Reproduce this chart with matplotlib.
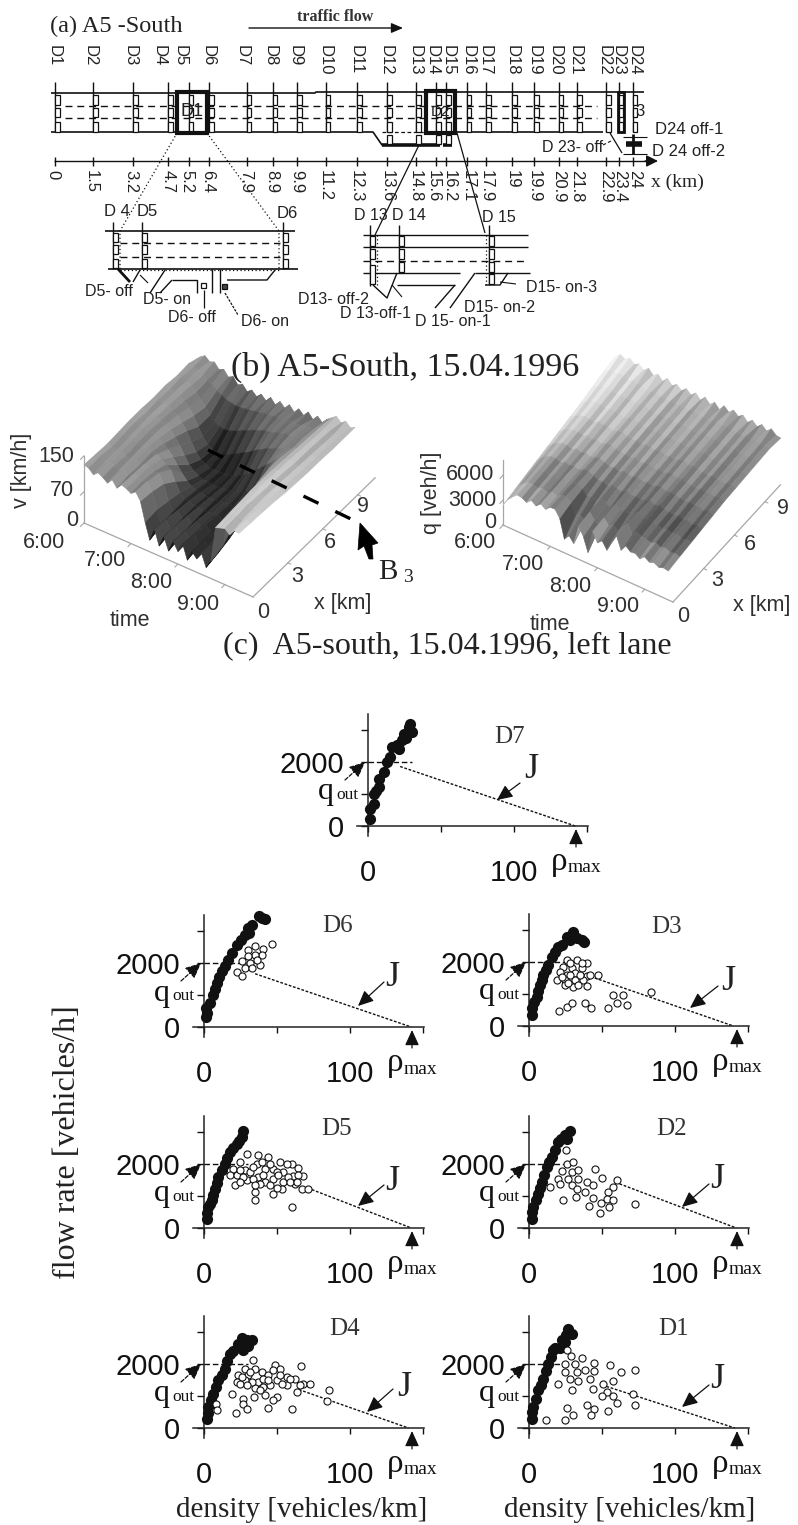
import numpy as np
import matplotlib
matplotlib.use('Agg')
import matplotlib.pyplot as plt
from matplotlib.patches import Rectangle, Polygon
from mpl_toolkits.mplot3d import proj3d

W, H = 798, 1525
SANS = 'Liberation Sans'
SERIF = 'Liberation Serif'

# (a) detector layout
det_names = ['D1', 'D2', 'D3', 'D4', 'D5', 'D6', 'D7', 'D8', 'D9', 'D10', 'D11', 'D12', 'D13', 'D14',
             'D15', 'D16', 'D17', 'D18', 'D19', 'D20', 'D21', 'D22', 'D23', 'D24']
det_km = [0, 1.58, 3.24, 4.7, 5.56, 6.4, 7.97, 9.05, 10.05, 11.25, 12.55, 13.8, 15.0, 15.83,
          16.24, 17.1, 17.9, 18.98, 19.9, 20.93, 21.68, 22.9, 23.42, 24]
name_px = [54, 90, 130, 159, 180, 208, 242, 270, 295, 325, 356, 386, 415, 432, 448, 468, 485, 512, 534, 555, 575, 604, 618, 634]
km_labels = ['0', '1.5', '3.2', '4.7', '5.2', '6.4', '7.9', '8.9', '9.9', '11.2', '12.3', '13.6', '14.8', '15.6',
             '16.2', '17.1', '17.9', '19', '19.9', '20.9', '21.8', '22.9', '23.4', '24']
km_label_px = [53, 91, 131, 168, 187, 208, 246, 272, 297, 325, 356, 387, 415, 433, 449, 468, 486, 512, 534, 559, 577, 606, 620, 635]

# (b) speed surface, rows are x [km], columns are time [min after 6:00]
surf_x = [0, 1, 2, 3, 4, 5, 6, 7, 8, 9, 10]
v_time = [0, 6, 12, 18, 24, 30, 36, 42, 48, 54, 60, 66, 72, 78, 84, 90, 96, 102, 108, 114, 120, 126, 132, 138,
          144, 150, 156, 162, 168, 174, 180, 186, 192, 198]
v_x0 = [130, 127, 117, 126, 120, 112, 124, 110, 122, 118, 112, 120, 104, 62, 26, 55, 22, 48, 20, 46, 28, 50, 18, 42, 30, 48, 20, 38, 118, 122, 125, 116, 130, 128]
v_x1 = [128, 128, 119, 124, 121, 115, 122, 113, 120, 117, 114, 118, 100, 64, 34, 52, 28, 46, 26, 44, 30, 46, 24, 40, 32, 44, 26, 46, 120, 124, 126, 120, 128, 126]
v_x2 = [126, 124, 120, 122, 118, 116, 120, 112, 118, 116, 110, 112, 92, 58, 38, 46, 32, 42, 30, 40, 34, 42, 28, 38, 36, 42, 34, 70, 122, 126, 128, 122, 126, 124]
v_x3 = [128, 126, 122, 124, 120, 118, 118, 114, 114, 108, 100, 94, 72, 52, 40, 42, 34, 38, 32, 36, 36, 38, 32, 36, 38, 40, 46, 96, 124, 128, 126, 124, 124, 122]
v_x4 = [130, 128, 124, 126, 122, 118, 116, 108, 100, 88, 74, 60, 48, 40, 36, 36, 32, 34, 32, 34, 36, 36, 36, 38, 42, 50, 78, 112, 124, 126, 124, 122, 120, 118]
v_x5 = [130, 126, 126, 124, 120, 116, 110, 98, 84, 66, 50, 40, 34, 30, 30, 28, 28, 30, 30, 32, 36, 38, 44, 50, 58, 72, 98, 118, 122, 124, 122, 120, 118, 116]
v_x6 = [128, 128, 124, 122, 118, 112, 100, 86, 66, 48, 36, 30, 26, 26, 26, 26, 28, 32, 36, 42, 50, 58, 68, 78, 88, 98, 110, 118, 120, 122, 118, 118, 116, 114]
v_x7 = [130, 126, 124, 120, 114, 104, 90, 70, 52, 40, 32, 30, 32, 36, 40, 46, 52, 58, 64, 72, 78, 84, 90, 94, 100, 104, 108, 112, 118, 120, 118, 116, 114, 114]
v_x8 = [126, 128, 122, 118, 108, 98, 84, 70, 60, 54, 52, 54, 58, 62, 68, 72, 78, 82, 86, 90, 92, 96, 98, 102, 104, 106, 110, 112, 116, 118, 116, 114, 114, 112]
v_x9 = [128, 124, 122, 116, 110, 104, 96, 90, 84, 82, 80, 80, 82, 84, 86, 88, 90, 92, 92, 94, 94, 96, 98, 98, 100, 102, 104, 108, 114, 116, 114, 112, 112, 112]
v_x10 = [118, 125, 116, 120, 108, 113, 100, 106, 92, 98, 86, 94, 84, 94, 84, 96, 84, 96, 86, 98, 86, 98, 88, 100, 88, 100, 90, 102, 110, 118, 108, 116, 106, 112]
v_rows = [v_x0, v_x1, v_x2, v_x3, v_x4, v_x5, v_x6, v_x7, v_x8, v_x9, v_x10]
v_streak = [.03, -.02, .04, 0, -.03, .04, .01, -.04, .03, .02, -.04, .03, -.02, .04, -.03, .02, -.02, .04, -.03, .02,
            .03, -.03, .01, -.04, .03, 0, -.03, .04, -.02, .04, -.05, .05, .03, -.04]

# (b) flow surface
q_surf_x = [0, 1.1, 2.2, 3.3, 4.4, 5.5, 6.6, 7.7, 8.8, 9.9, 11]
q_time = [0, 6, 12, 18, 24, 30, 36, 42, 48, 54, 60, 66, 72, 78, 84, 90, 96, 102, 108, 114, 120, 126, 132, 138,
          144, 150, 156, 162, 168, 174, 180, 186, 192, 198, 204, 210]
q_x0 = [2400, 3300, 3900, 4400, 4300, 4000, 4500, 4100, 4600, 4200, 4700, 4750, 3900, 1650, 2300, 1630, 3960, 3000, 1320, 4140, 3000, 3500, 2640, 3800, 4960, 3400, 4200, 3720, 3800, 3400, 3900, 3500, 3700, 3400, 3600, 3480]
q_x1 = [2700, 3500, 4000, 4400, 4400, 4200, 4500, 4200, 4600, 4300, 4700, 4800, 4300, 3000, 3300, 2800, 4200, 3500, 2900, 4300, 3600, 3900, 3400, 4200, 4900, 3900, 4400, 4100, 4000, 3800, 4100, 3800, 4000, 3700, 3900, 3700]
q_x2 = [3000, 3700, 4100, 4500, 4500, 4300, 4600, 4300, 4700, 4400, 4700, 4800, 4500, 3900, 4000, 3700, 4400, 4000, 3800, 4400, 4000, 4200, 4000, 4400, 4800, 4200, 4500, 4300, 4200, 4000, 4300, 4000, 4200, 3900, 4100, 3900]
q_x3 = [3300, 3900, 4300, 4600, 4600, 4400, 4700, 4500, 4700, 4500, 4800, 4800, 4600, 4300, 4400, 4100, 4500, 4300, 4200, 4500, 4300, 4400, 4300, 4500, 4700, 4400, 4600, 4400, 4300, 4200, 4400, 4200, 4300, 4100, 4300, 4100]
q_x4 = [3600, 4100, 4400, 4700, 4700, 4500, 4800, 4600, 4800, 4600, 4800, 4900, 4700, 4500, 4600, 4400, 4700, 4500, 4500, 4700, 4500, 4600, 4500, 4700, 4800, 4600, 4700, 4600, 4500, 4400, 4600, 4400, 4500, 4300, 4500, 4300]
q_x5 = [3900, 4300, 4600, 4800, 4800, 4700, 4900, 4700, 4900, 4700, 5000, 5000, 4800, 4700, 4700, 4600, 4800, 4600, 4700, 4800, 4600, 4700, 4600, 4800, 4900, 4700, 4800, 4700, 4600, 4500, 4700, 4500, 4600, 4500, 4600, 4500]
q_x6 = [4200, 4500, 4800, 5000, 4900, 4800, 5100, 4900, 5000, 4800, 5000, 5100, 4900, 4800, 4900, 4700, 4900, 4800, 4800, 4900, 4700, 4800, 4700, 4900, 5000, 4800, 4900, 4800, 4700, 4600, 4800, 4600, 4700, 4600, 4700, 4600]
q_x7 = [4500, 4800, 5000, 5200, 5100, 5000, 5200, 5000, 5100, 4900, 5100, 5200, 5000, 4900, 5000, 4800, 5000, 4900, 4900, 5000, 4800, 4900, 4800, 5000, 5100, 4900, 5000, 4900, 4800, 4700, 4900, 4700, 4800, 4700, 4800, 4700]
q_x8 = [4900, 5100, 5300, 5400, 5300, 5200, 5400, 5200, 5300, 5100, 5200, 5300, 5100, 5000, 5100, 4900, 5100, 5000, 5000, 5100, 4900, 5000, 4900, 5100, 5200, 5000, 5100, 5000, 4900, 4800, 5000, 4800, 4900, 4800, 4900, 4800]
q_x9 = [5300, 5500, 5600, 5700, 5600, 5400, 5600, 5400, 5500, 5200, 5300, 5400, 5200, 5100, 5200, 5000, 5200, 5100, 5100, 5200, 5000, 5100, 5000, 5200, 5300, 5100, 5200, 5100, 5000, 4900, 5100, 4900, 5000, 4900, 5000, 4900]
q_x10 = [5500, 6000, 5700, 6100, 5600, 5900, 5400, 5900, 5300, 5700, 5100, 5700, 5100, 5500, 5000, 5500, 5000, 5500, 4900, 5500, 4900, 5400, 4800, 5500, 5000, 5500, 5000, 5400, 4800, 5300, 4800, 5300, 4800, 5300, 4800, 4700]
q_rows = [q_x0, q_x1, q_x2, q_x3, q_x4, q_x5, q_x6, q_x7, q_x8, q_x9, q_x10]
q_grey_x = [0.5, 0.45, 0.46, 0.52, 0.58, 0.62, 0.66, 0.68, 0.7, 0.72, 0.72]
q_grey_t = [1.22, 1.22, 1.2, 1.2, 1.18, 1.16, 1.14, 1.12, 1.1, 1.08, 1.06, 1.04, 1.02, 1.0, .98, .97, .96, .95, .94, .93,
            .92, .91, .9, .89, .88, .87, .86, .85, .84, .83, .82, .81, .8, .79, .78, .77]
q_streak = [.05, -.03, .06, .02, -.05, .07, 0, -.06, .08, .03, -.07, .06, -.02, .08, -.06, .04, -.03, .09, -.07, .03,
            .07, -.05, .02, -.08, .06, 0, -.06, .08, -.03, .05, -.07, .04, .06, -.05, .02, -.03]

# (c) density, flow: free flow (black) and synchronized flow (white)
d7_free_d = [1.6, 1.6, 3.9, 4.3, 5.5, 7.3, 7.3, 10.7, 13, 15.3, 16.4, 19.9, 23.3, 24.4, 27.9, 30.1, 28.5, 21, 26]
d7_free_q = [229, 540, 697, 1009, 1100, 1217, 1477, 1685, 1997, 2153, 2465, 2517, 2673, 2881, 3089, 2933, 3193, 2400, 2750]

d6_free_d = [1.5, 2.3, 1.5, 4.1, 6.4, 7.5, 9.1, 10.5, 12.1, 14.5, 16.7, 19.5, 22.4, 25, 28.1, 31, 32.6, 30, 39.5, 41.8, 37.5]
d6_free_q = [300, 437, 600, 749, 1009, 1200, 1373, 1560, 1737, 1920, 2101, 2300, 2569, 2730, 2881, 2950, 3193, 3100, 3400, 3380, 3470]
d6_sync_d = [46.3, 40.6, 34.9, 30.4, 39.5, 34.9, 30.4, 25.8, 31.5, 38.4, 28.1, 32.6, 22.4, 25.8, 36.1]
d6_sync_q = [2590, 2434, 2517, 2413, 2257, 2257, 2205, 2049, 1997, 1924, 1841, 1841, 1706, 1602, 2101]

d3_free_d = [1.8, 2, 3.5, 5.3, 6.5, 7.5, 8.6, 9.8, 11.5, 13.2, 15.5, 18, 20, 22.5, 25.8, 28, 30.4, 33, 36, 37.5]
d3_free_q = [343, 560, 760, 915, 1100, 1279, 1440, 1591, 1750, 1903, 2163, 2320, 2475, 2540, 2787, 2700, 2943, 2760, 2683, 2640]
d3_sync_d = [25.8, 33.1, 40, 23.5, 29.2, 36.1, 21.2, 25.8, 31.5, 39.5, 19, 24.7, 31.5, 37.2, 24.7, 30.4, 39.5, 47, 83.6,
             20.8, 25.8, 29.2, 38.4, 42.2, 54.3, 57.8, 64.6, 60, 66.9, 28.1, 36.1, 22.4, 28.1, 34.9, 41.8, 26.9, 33.8]
d3_sync_q = [2059, 2059, 1955, 1851, 1799, 1799, 1695, 1591, 1643, 1560, 1435, 1435, 1435, 1435, 1279, 1206, 1248, 1591, 1050,
             468, 582, 728, 728, 551, 551, 967, 967, 707, 655, 1955, 1955, 1539, 1591, 1591, 1591, 1331, 1279]

d5_free_d = [2.3, 2.3, 2.5, 4, 5.3, 6.4, 7.5, 8.6, 9.8, 12, 14.4, 16, 17.8, 20, 22.4, 24, 25.8, 26.9]
d5_free_q = [291, 480, 655, 760, 863, 1040, 1227, 1410, 1591, 1800, 2007, 2190, 2371, 2500, 2631, 2730, 2839, 3026]
d5_sync_d = [29.2, 37.2, 44.1, 24.7, 36.1, 52, 60, 64.6, 20.1, 28.1, 41.8, 31.5, 47.5, 54.3, 17.8, 22.4, 37.2, 47.5, 61.2, 68,
             29.2, 41.8, 54.3, 21.2, 38.4, 45.2, 53.2, 66.9, 71.5, 34.9, 47.5, 34.9, 60, 49.8, 62.3, 33.8,
             24.7, 33.8, 39.5, 45.2, 56.6, 26.9, 40.6, 50.9, 57.8, 64.6, 24.7, 34.9, 49.8, 58.9, 63.5]
d5_sync_q = [2319, 2267, 2215, 2059, 2007, 2059, 2007, 1872, 1851, 1799, 1851, 1747, 1851, 1747, 1643, 1643, 1591, 1539, 1612, 1612,
             1487, 1435, 1435, 1331, 1383, 1331, 1227, 1227, 1227, 1123, 1071, 863, 655, 1747, 1383, 1539,
             1799, 1903, 2059, 2007, 2007, 1591, 1643, 1643, 1591, 1643, 1435, 1331, 1258, 1435, 1435]

d2_free_d = [1.8, 2, 3, 4.7, 6.4, 7.5, 8.7, 10.4, 12.1, 13.8, 15.5, 17.8, 20, 22, 24.7, 26, 28]
d2_free_q = [291, 500, 655, 860, 1071, 1250, 1435, 1670, 1903, 2060, 2215, 2450, 2683, 2790, 2891, 2780, 3026]
d2_sync_d = [25.3, 25.8, 30.4, 22.4, 29.2, 33.8, 45.2, 20.1, 26.9, 33.8, 39.5, 49.8, 60, 21.2, 29.2, 44.1, 57.8, 32.6, 38.4, 54.3,
             32.2, 44.1, 53.2, 57.8, 14.4, 23.1, 49.1, 55, 41.3, 48.6, 72.6]
d2_sync_q = [2423, 2007, 2059, 1778, 1747, 1799, 1830, 1539, 1539, 1539, 1435, 1570, 1508, 1383, 1331, 1331, 1279, 1227, 1123, 1123,
             967, 936, 894, 863, 1279, 863, 780, 655, 676, 468, 738]

d4_free_d = [1.8, 2.5, 3, 4.7, 6.4, 8, 9.8, 12, 14.4, 16, 17.8, 20, 23.5, 26.9, 29.2, 26, 32.6, 30]
d4_free_q = [291, 480, 655, 860, 1071, 1280, 1487, 1670, 1851, 2080, 2319, 2420, 2631, 2423, 2735, 2800, 2735, 2550]
d4_sync_d = [33.8, 48.6, 66.2, 28.1, 34.9, 39.5, 52.1, 23.5, 30.4, 44.1, 56.6, 22.4, 28.1, 37.2, 49.8, 62.3, 68, 72.6, 24.7, 34.9,
             45.2, 63.5, 19, 26.9, 34.2, 41.8, 49.8, 47.5, 26.9, 29.7, 44.1, 21.9, 60.5, 85.8, 84, 8.2, 9.1, 32.6, 56.6,
             25.8, 31.5, 40.6, 47.5, 52.1, 58.9, 29.2, 40.6, 44.1, 53.2, 38.4, 65.8]
d4_sync_q = [2111, 1955, 1924, 1851, 1851, 1747, 1851, 1643, 1643, 1643, 1591, 1435, 1487, 1435, 1487, 1539, 1383, 1383, 1383, 1258,
             1331, 1123, 1071, 915, 967, 1019, 967, 863, 759, 603, 634, 468, 582, 1196, 842, 759, 572, 1435, 1331,
             1591, 1747, 1539, 1799, 1643, 1539, 1331, 1279, 1487, 1383, 1175, 1331]

d1_free_d = [1.8, 2, 3, 4.7, 6.4, 8, 9.8, 11.5, 13.2, 15, 16.7, 18, 22.4, 21.5, 25, 26.9, 29.2, 24.5]
d1_free_q = [291, 500, 655, 900, 1175, 1350, 1539, 1770, 2007, 2220, 2423, 2500, 2735, 2500, 2900, 3099, 2943, 2700]
d1_sync_d = [26.3, 28.5, 36.1, 24.7, 31.5, 44.5, 55.5, 62.8, 72.6, 24.7, 32.6, 38.4, 44.5, 20.1, 28.1, 33.8, 41.8, 50.9, 57.8, 29.2,
             43.6, 53.2, 71.5, 49.8, 57.3, 60.5, 26.3, 40, 44.5, 54.3, 72.6, 30.4, 42.2, 24.7, 11.6]
d1_sync_q = [2444, 2236, 2194, 2007, 2007, 2038, 1976, 1747, 1799, 1747, 1747, 1799, 1778, 1383, 1539, 1456, 1539, 1383, 1456, 1175,
             1206, 1123, 1071, 998, 988, 790, 634, 728, 603, 530, 728, 416, 416, 239, 260]

# line J: start density, start flow, density at rest (rho_max)
j_d7 = [22, 1860, 142]
j_d6 = [35, 1664, 142]
j_d3 = [45, 1500, 140]
j_d5 = [71, 1250, 142]
j_d2 = [62, 1380, 142]
j_d4 = [65, 1200, 140]
j_d1 = [53, 1300, 141]

plt.rcParams['font.family'] = SANS
fig = plt.figure(figsize=(W / 100, H / 100), dpi=100)
INK = '#111111'


def add_px_axes(left, top, right, bottom, **kw):
    return fig.add_axes([left / W, 1 - bottom / H, (right - left) / W, (bottom - top) / H], **kw)


# pixel overlay for the schematic and the annotation texts
ov = fig.add_axes([0, 0, 1, 1], zorder=10)
ov.set_xlim(0, W)
ov.set_ylim(H, 0)
ov.axis('off')


def line(xs, ys, lw=1.0, c=INK, ls='-'):
    ov.plot(xs, ys, color=c, lw=lw, ls=ls, solid_capstyle='butt')


def txt(x, y, s, size=11.5, fam=SANS, c='#222222', **kw):
    kw.setdefault('ha', 'center')
    kw.setdefault('va', 'center')
    ov.text(x, y, s, fontsize=size, family=fam, color=c, **kw)


def arrow(tail, tip, lw=0.9, head=0.28, length=0.6, ls='-'):
    ov.annotate('', xy=tip, xytext=tail,
                arrowprops=dict(arrowstyle=f'-|>,head_width={head},head_length={length}', color=INK, lw=lw,
                                ls=ls, shrinkA=0, shrinkB=0))


def detector(x, y0, y1, boxes, bw=4.5):
    line([x, x], [y0, y1], 1.0)
    for by0, by1 in boxes:
        ov.add_patch(Rectangle((x, by0), bw, by1 - by0, fc='white', ec=INK, lw=0.9, zorder=3))


def kmx(km):
    return 55 + 24.08 * km


# ----- (a) road
txt(50, 26, '(a) A5 -South', size=17.5, fam=SERIF, ha='left')
txt(335, 17, 'traffic flow', size=11.5, fam=SERIF, fontweight='bold', c='#333333')
arrow((249, 28), (403, 28), lw=1.0, head=0.3, length=0.7)

line([51, 315, 316, 644], [93, 93, 92, 92], 1.2)
line([51, 373, 382, 440], [132, 132, 145, 145], 1.2)
line([382, 440], [145, 145], 2.6)
line([443, 452], [145, 145], 2.6)
line([382, 424], [132, 132], 0.9, ls=(0, (3, 2)))
line([457, 603], [132, 132], 1.2)
for ly in (106, 118):
    line([65, 597], [ly, ly], 1.0, ls=(0, (5, 3.5)))

main_boxes = [(95, 105), (108, 117), (122, 132)]
for km in det_km:
    detector(kmx(km), 82, 132, main_boxes)
for name, px in zip(det_names, name_px):
    txt(px, 45, name, size=12, rotation=270, va='top')
for ramp_km in (13.8, 15.0, 15.83, 16.24):
    ov.add_patch(Rectangle((kmx(ramp_km), 135), 4.5, 9, fc='white', ec=INK, lw=0.9, zorder=3))

# thick boxes marking bottlenecks
for bx0, bx1, by0, by1, blw in [(177, 207, 92, 133, 3.0), (426, 455, 91, 133, 3.0), (618, 624, 92, 132, 2.0)]:
    ov.add_patch(Rectangle((bx0, by0), bx1 - bx0, by1 - by0, fc='none', ec=INK, lw=blw, zorder=4))
txt(192, 112, 'D1', size=13, zorder=5)
txt(440, 112, 'D2', size=11, zorder=5)
txt(640, 112, '3', size=12, zorder=5)

# km axis
line([54, 650], [161, 161], 1.0)
arrow((645, 161), (658, 161), lw=1.0, head=0.35, length=0.7)
for km in det_km:
    line([kmx(km), kmx(km)], [157, 166], 1.0)
for lab, px in zip(km_labels, km_label_px):
    txt(px, 170, lab, size=12, rotation=270, va='top')
txt(677, 182, 'x (km)', size=14, fam=SERIF)

# right end off ramps
txt(689, 130, 'D24 off-1', size=12)
txt(689, 151, 'D 24 off-2', size=12)
txt(573, 148, 'D 23- off', size=11.5)
line([603, 613], [145, 140], 0.8, ls=(0, (3, 2)))
line([610, 622], [133, 153], 0.9)
line([623, 647], [137, 137], 0.8)
line([623, 647], [154, 154], 0.8)
line([626, 642], [143.5, 143.5], 4)
line([633, 633], [134, 154], 2)

# inset: D4-D6
inset1_boxes = [(233, 242), (245, 254), (259, 268)]
line([105, 295], [231, 231], 1.2)
line([108, 298], [269, 269], 1.2)
for ly in (243, 257):
    line([120, 280], [ly, ly], 1.0, ls=(0, (5, 3.5)))
for ix in (113, 142, 283):
    detector(ix, 222, 269, inset1_boxes)
txt(117, 212, 'D 4', size=12)
txt(147, 212, 'D5', size=12)
txt(287, 213, 'D6', size=12)
line([177, 120, 120], [133, 231, 269], 0.9, ls=(0, (1, 2)))
line([207, 279, 279], [133, 231, 269], 0.9, ls=(0, (1, 2)))
line([120, 279], [269.5, 269.5], 0.9, ls=(0, (1, 2)))
line([118, 130], [269, 282], 2.0)
line([133, 140], [282, 270], 1.0)
line([140, 148], [275, 283], 0.8)
line([150, 165], [293, 270], 1.0)
line([160, 172], [293, 280], 1.0)
line([172, 197, 197], [280, 280, 293], 1.0)
line([212, 212], [269, 293], 1.0)
line([220, 220], [269, 293], 1.0)
line([227, 267, 275], [280, 280, 270], 1.0)
ov.add_patch(Rectangle((201, 283), 4.5, 5, fc='white', ec=INK, lw=0.9))
ov.add_patch(Rectangle((222, 284), 5, 5, fc='#444444', ec=INK, lw=0.9))
line([204, 204], [290, 308], 0.9)
line([225, 238], [293, 315], 0.9, ls=(0, (2, 1)))
txt(109, 291, 'D5- off', size=11.5)
txt(167, 300, 'D5- on', size=11.5)
txt(192, 317, 'D6- off', size=11.5)
txt(265, 321, 'D6- on', size=11.5)

# inset: D13-D15
for ly in (235, 247):
    line([363, 528], [ly, ly], 1.0)
line([363, 528], [261, 261], 1.0, ls=(0, (5, 3.5)))
line([363, 460], [273, 273], 1.0)
line([475, 530], [273, 273], 1.0)
line([397, 455], [285, 285], 1.0)
detector(370, 225, 286, [(236, 246), (249, 259), (265, 284)])
detector(399, 225, 273, [(236, 246), (249, 259), (262, 272)])
detector(489, 225, 285, [(236, 246), (249, 259), (262, 272), (274, 284)])
line([420, 375], [143, 235], 0.9)
line([457, 485], [133, 233], 0.9)
line([377, 377], [235, 285], 0.9, ls=(0, (1, 2)))
line([486, 486], [235, 285], 0.9, ls=(0, (1, 2)))
line([435, 455], [308, 285], 1.0)
line([450, 475], [308, 273], 1.0)
line([485, 500, 508], [285, 285, 273], 1.0)
line([500, 516], [282, 284], 0.8)
line([373, 387, 397], [285, 298, 273], 1.0)
line([392, 402], [285, 297], 0.8)
txt(371, 215, 'D 13', size=11.5)
txt(409, 215, 'D 14', size=11.5)
txt(499, 217, 'D 15', size=11.5)
txt(333, 300, 'D13- off-2', size=11.5)
txt(375, 313, 'D 13-off-1', size=11.5)
txt(453, 322, 'D 15- on-1', size=11.5)
txt(500, 307, 'D15- on-2', size=11.5)
txt(562, 287, 'D15- on-3', size=11.5)

# ----- (b)
txt(405, 367, '(b) A5-South, 15.04.1996', size=24.5, fam=SERIF)


def surface_axes(t_min, x_km, rows, greys, z_top, elev, azim, aspect, origin_px, t_end_px, z_ticks):
    ax = add_px_axes(0, 340, 300, 640, projection='3d', zorder=1)
    ax.patch.set_visible(False)
    ax.set_proj_type('ortho')
    ax.view_init(elev=elev, azim=azim)
    ax.set_box_aspect(aspect)
    t_hours = np.array(t_min) / 60.0
    T, X = np.meshgrid(t_hours, x_km)
    Z = np.array(rows, dtype=float)
    t_end = 3.6
    ax.set_xlim(0, t_end)
    ax.set_ylim(0, 10.5)
    ax.set_zlim(0, z_top)
    colours = np.ones(Z.shape + (4,))
    colours[..., :3] = np.clip(greys, 0.03, 0.97)[..., None]
    ax.plot_surface(T, X, Z, facecolors=colours, rstride=1, cstride=1, shade=False, linewidth=0.4, antialiased=True)
    ax.set_axis_off()
    axis_c = '0.65'
    ax.plot([0, t_end], [0, 0], [0, 0], color=axis_c, lw=0.9)
    ax.plot([t_end, t_end], [0, 10.5], [0, 0], color=axis_c, lw=0.9)
    ax.plot([0, 0], [0, 0], [0, z_top], color=axis_c, lw=0.9)
    for tick_h in (1, 2, 3):
        ax.plot([tick_h, tick_h], [0, -0.25], [0, 0], color=axis_c, lw=0.8)
    for tick_x in (3, 6, 9):
        ax.plot([t_end, t_end + 0.06], [tick_x, tick_x], [0, 0], color=axis_c, lw=0.8)
    for tick_z in z_ticks:
        ax.plot([0, 0], [0, -0.3], [tick_z, tick_z], color=axis_c, lw=0.8)

    # move and scale the axes so that the floor edge falls on the place it has in the figure
    def disp(pt):
        ax.apply_aspect()
        x2, y2, _ = proj3d.proj_transform(pt[0], pt[1], pt[2], ax.get_proj())
        return ax.transData.transform((x2, y2))
    a = disp((0, 0, 0))
    b = disp((t_end, 0, 0))
    target = np.array([t_end_px[0] - origin_px[0], -(t_end_px[1] - origin_px[1])], dtype=float)
    ratio = np.hypot(*target) / np.hypot(*(b - a))
    pos = ax.get_position()
    ax.set_position([pos.x0, pos.y0, pos.width * ratio, pos.height * ratio])
    a = disp((0, 0, 0))
    pos = ax.get_position()
    ax.set_position([pos.x0 + (origin_px[0] - a[0]) / W, pos.y0 + (H - origin_px[1] - a[1]) / H, pos.width, pos.height])
    return ax


v_arr = np.array(v_rows, dtype=float)
v_grey = 0.02 + 0.0045 * v_arr + 0.0022 * np.gradient(v_arr, axis=1) + np.array(v_streak)[None, :]
v_grey[:, 28:] += 0.17
surface_axes(v_time, surf_x, v_rows, v_grey, 150, 40.8, -56.2, (203, 219, 88.5), (84, 523), (253, 597), [0, 70, 150])

q_arr = np.array(q_rows, dtype=float)
q_grey = np.array(q_grey_x)[:, None] * np.array(q_grey_t)[None, :] + np.array(q_streak)[None, :] \
    + 0.00012 * np.gradient(q_arr, axis=1)
q_grey[0, 28:] += 0.12
q_grey[1, 28:] += 0.05
surface_axes(q_time, q_surf_x, q_rows, q_grey, 7800, 44.7, -57.2, (202, 198, 91), (503, 525), (673, 602), [0, 3000, 6000])

TICK3D = '#303030'
for s, x, y in [('150', 56, 456), ('70', 62, 490), ('0', 72, 520), ('6:00', 44, 543), ('7:00', 105, 561),
                ('8:00', 151, 582), ('9:00', 198, 605), ('time', 130, 620), ('0', 263, 613), ('3', 297, 577),
                ('6', 330, 542), ('9', 363, 506), ('x [km]', 343, 603)]:
    txt(x, y, s, size=15.5, c=TICK3D)
txt(22, 470, 'v [km/h]', size=15.5, c=TICK3D, rotation=90)
for s, x, y in [('6000', 470, 475), ('3000', 472, 500), ('0', 490, 523), ('6:00', 475, 542), ('7:00', 523, 564),
                ('8:00', 570, 586), ('9:00', 618, 607), ('time', 550, 624), ('0', 683, 616), ('3', 717, 581),
                ('6', 750, 545), ('9', 783, 508), ('x [km]', 762, 605)]:
    txt(x, y, s, size=15.5, c=TICK3D)
txt(432, 493, 'q [veh/h]', size=15.5, c=TICK3D, rotation=90)

# jam line B3
line([208, 353], [450, 520], 2.4, c='black', ls=(0, (5, 5.6)))
ov.add_patch(Polygon([(360, 523), (378, 543), (372, 545), (373, 559), (369, 559), (364, 546), (358, 550)],
                     closed=True, fc='black', ec='black', lw=0.5))
txt(388, 572, 'B', size=21, fam=SERIF)
txt(408, 578, '3', size=14, fam=SERIF)

# ----- (c)
txt(447, 646, '(c)  A5-south, 15.04.1996, left lane', size=23, fam=SERIF)
txt(68, 1142, 'flow rate [vehicles/h]', size=23, fam=SERIF, rotation=90)
txt(302, 1510, 'density [vehicles/km]', size=21, fam=SERIF)
txt(630, 1510, 'density [vehicles/km]', size=21, fam=SERIF)

PX_D = 1.46
PX_Q = 0.032


def panel(name, x0, y0, free_d, free_q, sync_d, sync_q, j_line, title_at, j_text, j_tail, j_tip):
    ax = add_px_axes(x0 - 11, y0 - 112, x0 + 150 * PX_D + 1, y0 + 10, zorder=5)
    ax.patch.set_visible(False)
    ax.set_xlim(-11 / PX_D, 150 + 1 / PX_D)
    ax.set_ylim(-10 / PX_Q, 112 / PX_Q)
    for side in ('top', 'right'):
        ax.spines[side].set_visible(False)
    ax.spines['left'].set_position(('data', 0))
    ax.spines['bottom'].set_position(('data', 0))
    ax.spines['left'].set_linewidth(1.1)
    ax.spines['bottom'].set_linewidth(1.1)
    ax.spines['left'].set_color('#222222')
    ax.spines['bottom'].set_color('#222222')
    ax.set_xticks([0, 50, 100, 150], ['0', '', '100', ''])
    ax.set_yticks([0, 1000, 2000, 3000], ['0', '', '2000', ''])
    ax.tick_params(axis='x', length=4.5, width=1.0, pad=19, labelsize=21, colors='#111111')
    ax.tick_params(axis='y', length=5, width=1.0, pad=12, labelsize=21, colors='#111111')
    ax.plot([j_line[0], j_line[2]], [j_line[1], 0], color=INK, lw=1.0, ls=(0, (2, 1.2)), clip_on=False)
    ax.plot([0, 30], [2000, 2000], color=INK, lw=1.0, ls=(0, (4, 2)), clip_on=False, zorder=1)
    ax.scatter(free_d, free_q, s=65, c='#111111', linewidths=0, clip_on=False, zorder=3)
    if sync_d:
        ax.scatter(sync_d, sync_q, s=26, facecolors='white', edgecolors='#111111', linewidths=0.8,
                   clip_on=False, zorder=4)
    # labels around the panel, relative to its origin
    txt(x0 + title_at[0], y0 + title_at[1], name, size=18, fam=SERIF, c='#333333')
    txt(x0 + j_text[0], y0 + j_text[1], 'J', size=26, fam=SERIF, c='#222222')
    arrow((x0 + j_tail[0], y0 + j_tail[1]), (x0 + j_tip[0], y0 + j_tip[1]), lw=0.9, head=0.43, length=0.94)
    txt(x0 - 42, y0 - 34, 'q', size=23, fam=SERIF, c='#111111')
    txt(x0 - 21, y0 - 31, 'out', size=12.5, fam=SERIF, c='#111111')
    arrow((x0 - 23, y0 - 46), (x0 - 3, y0 - 64), lw=0.9, head=0.43, length=0.94, ls=(0, (3, 1.5)))
    txt(x0 + 191, y0 + 36, '\u03c1', size=24, fam=SERIF, c='#111111')
    txt(x0 + 216, y0 + 42, 'max', size=14, fam=SERIF, c='#111111')
    arrow((x0 + 208, y0 + 21), (x0 + 208, y0 + 3), lw=0.9, head=0.43, length=0.94)


panel('D7', 368, 826, d7_free_d, d7_free_q, [], [], j_d7, (142, -89), (163, -56), (152, -43), (129, -26))
panel('D6', 204, 1027, d6_free_d, d6_free_q, d6_sync_d, d6_sync_q, j_d6, (134, -101), (188, -49), (180, -45), (154, -21))
panel('D3', 529, 1026, d3_free_d, d3_free_q, d3_sync_d, d3_sync_q, j_d3, (138, -99), (199, -44), (189, -40), (161, -18))
panel('D5', 204, 1228, d5_free_d, d5_free_q, d5_sync_d, d5_sync_q, j_d5, (133, -99), (188, -46), (180, -43), (154, -22))
panel('D2', 529, 1228, d2_free_d, d2_free_q, d2_sync_d, d2_sync_q, j_d2, (143, -99), (188, -49), (180, -44), (153, -21))
panel('D4', 204, 1428, d4_free_d, d4_free_q, d4_sync_d, d4_sync_q, j_d4, (141, -99), (200, -41), (189, -39), (163, -16))
panel('D1', 529, 1428, d1_free_d, d1_free_q, d1_sync_d, d1_sync_q, j_d1, (145, -99), (188, -48), (180, -43), (153, -21))

fig.savefig('out.png', dpi=100)
